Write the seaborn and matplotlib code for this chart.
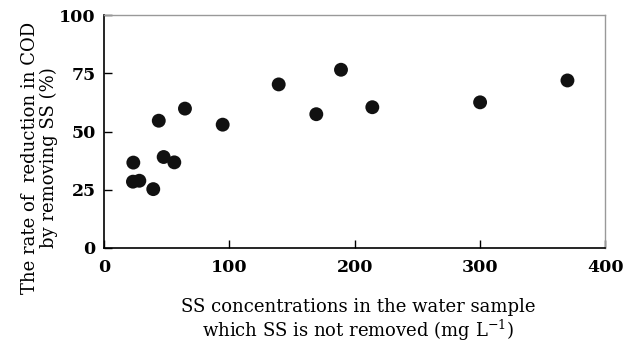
import matplotlib
matplotlib.use("Agg")
import matplotlib.pyplot as plt
import seaborn as sns
import pandas as pd

ss_conc = [23.4, 23.1, 28.2, 39.3, 43.7, 47.6, 56.1, 64.6, 94.7, 139.4, 169.4, 189.1, 214.1, 300.1, 369.8]
cod_reduction = [36.7, 28.5, 28.9, 25.3, 54.7, 39.1, 36.8, 59.9, 53.0, 70.3, 57.5, 76.6, 60.5, 62.6, 72.0]
x_ticks = [0, 100, 200, 300, 400]
y_ticks = [0, 25, 50, 75, 100]

df = pd.DataFrame({"ss": ss_conc, "cod": cod_reduction})

sns.set_theme(style="ticks")
plt.rcParams["font.family"] = ["DejaVu Serif"]
plt.rcParams["mathtext.fontset"] = "dejavuserif"
plt.rcParams["text.color"] = "black"
plt.rcParams["axes.labelcolor"] = "black"
plt.rcParams["xtick.color"] = "black"
plt.rcParams["ytick.color"] = "black"

fig = plt.figure(figsize=(6.35, 3.43), dpi=100)
ax = fig.add_axes([104/635, 1-248/343, (605.3-104)/635, (248-15.3)/343])

sns.scatterplot(data=df, x="ss", y="cod", ax=ax, color="#111111", s=100,
                edgecolor="none", linewidth=0)

ax.set_xlim(0, 400)
ax.set_ylim(0, 100)
ax.set_xticks(x_ticks)
ax.set_yticks(y_ticks)
ax.set_xticklabels([str(t) for t in x_ticks], fontweight="bold", fontsize=12.5)
ax.set_yticklabels([str(t) for t in y_ticks], fontweight="bold", fontsize=12.5)
ax.tick_params(axis="both", direction="in", length=6, width=1, top=False, right=False)
ax.tick_params(axis="x", pad=8)
ax.tick_params(axis="y", pad=6)

for side in ["left", "bottom"]:
    ax.spines[side].set_color("black")
    ax.spines[side].set_linewidth(1.2)
for side in ["top", "right"]:
    ax.spines[side].set_visible(True)
    ax.spines[side].set_color("#999999")
    ax.spines[side].set_linewidth(1.0)

ax.set_xlabel("SS concentrations in the water sample\nwhich SS is not removed (mg L$^{-1}$)",
              fontsize=13, linespacing=1.1)
ax.xaxis.set_label_coords((358-104)/501.3, -(343-248)/232.7)
ax.xaxis.label.set_va("bottom")
ax.set_ylabel("The rate of  reduction in COD\nby removing SS (%)", fontsize=13,
              linespacing=1.05)
ax.yaxis.set_label_coords((58-104)/501.3, (248-158)/232.7)

fig.savefig("out.png", dpi=100, facecolor="white")
